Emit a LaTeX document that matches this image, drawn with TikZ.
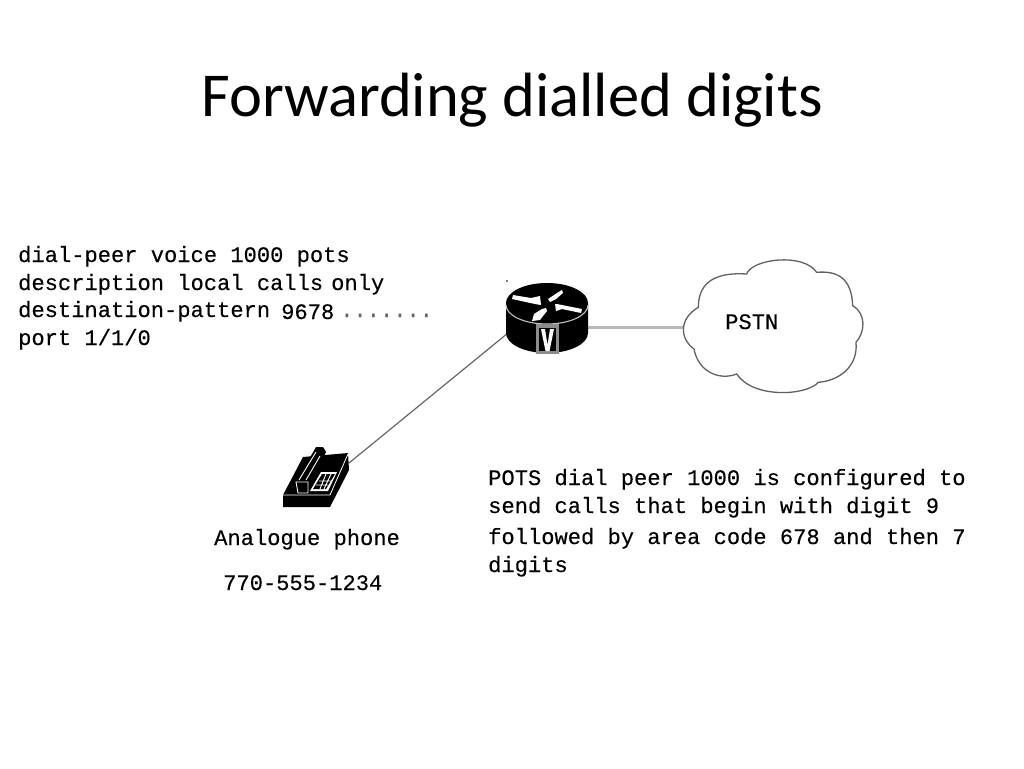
\documentclass[tikz,border=0pt]{standalone}
\usepackage{fontspec}
\setmainfont{Carlito}
\newfontfamily\pixfont[FakeBold=0.25]{Liberation Mono}
\tikzset{
  mono/.style={anchor=base west,inner sep=0pt,font=\pixfont\fontsize{22.1}{24}\selectfont,text=black},
  wire/.style={draw=black!60,line width=1.2pt},
  fatwire/.style={draw=black!28,line width=3pt},
  wht/.style={fill=white,draw=none},
  cloudline/.style={draw=black!62,line width=1.3pt}
}
\begin{document}
\begin{tikzpicture}[x=1pt,y=-1pt]
\useasboundingbox (0,0) rectangle (1024,768);
\fill[white] (0,0) rectangle (1024,768);
\node[anchor=base,inner sep=0pt,font=\fontsize{62.5}{68}\selectfont] (title) at (512,116) {Forwarding dialled digits};
% code block
\node[mono] (c1) at (18,262) {dial-peer voice 1000 pots};
\node[mono] (c2) at (18,290) {description local calls};
\node[mono] (c2b) at (331,290) {only};
\node[mono] (c3) at (18,317) {destination-pattern};
\node[mono] (c3b) at (281,319) {9678};
\node[mono,text=black!60] (c3c) at (340,317) {.......};
\node[mono] (c4) at (18,345) {port 1/1/0};
% explanation
\node[mono] (e1) at (488,485) {POTS dial peer 1000 is configured to};
\node[mono] (e2) at (488,513) {send calls that begin with digit 9};
\node[mono] (e3) at (488,544) {followed by area code 678 and then 7};
\node[mono] (e4) at (488,572) {digits};
\node[mono] (ph1) at (214,545) {Analogue phone};
\node[mono] (ph2) at (223,590) {770-555-1234};
% connector end points
\coordinate (routerSW) at (508,333);
\coordinate (routerE) at (588,327);
\coordinate (phoneNE) at (349,463);
\coordinate (cloudW) at (683,327);
\draw[wire] (routerSW) -- (phoneNE);
\draw[fatwire] (routerE) -- (cloudW);
% cloud
\begin{scope}[shift={(670,249)},x=0.3333pt,y=-0.3333pt]
\draw[cloudline,fill=white] (230,75)
  .. controls (245,30) and (400,10) .. (440,70)
  .. controls (500,65) and (545,85) .. (548,170)
  .. controls (590,195) and (585,250) .. (558,280)
  .. controls (565,350) and (510,395) .. (445,400)
  .. controls (410,440) and (250,450) .. (200,375)
  .. controls (150,395) and (85,370) .. (72,300)
  .. controls (30,270) and (25,210) .. (85,175)
  .. controls (85,90) and (150,70) .. (230,75) -- cycle;
\end{scope}
\node[mono] (pstn) at (725,329) {PSTN};
% router
\fill[black] (506,303) -- (506,333) arc[start angle=180,end angle=0,x radius=41,y radius=20]
  -- (588,303) arc[start angle=0,end angle=-180,x radius=41,y radius=20] -- cycle;
\draw[black!25,line width=1.1pt] (506,305) arc[start angle=180,end angle=0,x radius=41,y radius=19];
\fill[black!45] (536,324) rectangle (559,354);
\fill[black] (539,328) rectangle (556,351);
\fill[white] (541,329) -- (545,329) -- (547.5,345) -- (550,329) -- (554,329) -- (549.5,351) -- (545.5,351) -- cycle;
\fill[wht] (513,295) -- (531,298) -- (540,296) -- (541,305) -- (535,304) -- (512,299) -- cycle;
\fill[wht] (548,299) -- (557,293) -- (562,290) -- (563,293) -- (556,299) -- (550,302) -- cycle;
\fill[wht] (532,321) -- (534,314) -- (542,309) -- (546,308) -- (547,311) -- (543,316) -- (540,320) -- cycle;
\fill[wht] (555,304) -- (557,304) -- (582,309) -- (581,313) -- (562,309) -- (556,311) -- cycle;
\fill[black] (507,281) circle[radius=0.9];
% phone
\fill[black] (283,495) -- (303,457) -- (348,453) -- (349,470) -- (330,507) -- (283,507) -- cycle;
\draw[white,line width=0.8pt] (283,495) -- (330,495) -- (348,454);
\fill[white] (310,491) -- (321,472) -- (337,472) -- (328,491) -- cycle;
\fill[black] (313,489) -- (322,474) -- (335,474) -- (326,489) -- cycle;
\draw[white,line width=0.9pt] (319,481) -- (331,481) (316,485) -- (328,485) (326,474) -- (320,489) (331,474) -- (324,489);
\fill[black] (296,482) -- (316,447) -- (323,447) -- (326,452) -- (318,470) -- (308,482) -- (308,494) -- (296,494) -- cycle;
\draw[white,line width=0.9pt] (299,480) -- (316,452) (306,480) -- (320,456) (296,482) -- (308,482) -- (308,493) -- (298,493) -- cycle;
\end{tikzpicture}
\end{document}
